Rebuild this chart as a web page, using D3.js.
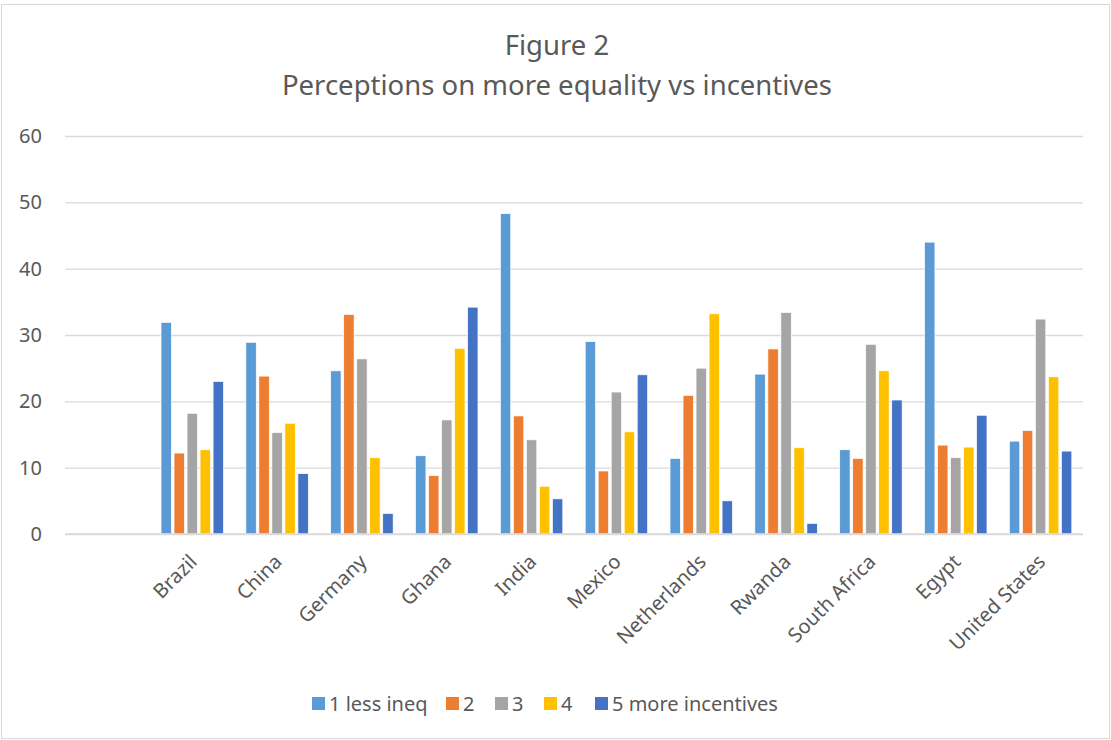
<!DOCTYPE html>
<html>
<head>
<meta charset="utf-8">
<script src="https://cdn.jsdelivr.net/npm/d3@7"></script>
<style>
  body { margin: 0; background: #fff; }
  svg { display: block; font-family: "Noto Sans", "Open Sans", sans-serif; }
</style>
</head>
<body>
<svg id="chart"></svg>
<script>
// categories (Excel left an empty slot before Brazil)
const countries = ["", "Brazil", "China", "Germany", "Ghana", "India", "Mexico",
                   "Netherlands", "Rwanda", "South Africa", "Egypt", "United States"];
const seriesNames = ["1 less ineq", "2", "3", "4", "5 more incentives"];
const seriesColors = ["#5B9BD5", "#ED7D31", "#A5A5A5", "#FFC000", "#4472C4"];

// values per series, same order as countries
const lessIneq   = [null, 31.9, 28.9, 24.6, 11.8, 48.3, 29.0, 11.4, 24.1, 12.7, 44.0, 14.0];
const answer2    = [null, 12.2, 23.8, 33.1,  8.8, 17.8,  9.5, 20.9, 27.9, 11.4, 13.4, 15.6];
const answer3    = [null, 18.2, 15.3, 26.4, 17.2, 14.2, 21.4, 25.0, 33.4, 28.6, 11.5, 32.4];
const answer4    = [null, 12.7, 16.7, 11.5, 28.0,  7.2, 15.4, 33.2, 13.0, 24.6, 13.1, 23.7];
const moreIncent = [null, 23.0,  9.1,  3.1, 34.2,  5.3, 24.0,  5.0,  1.6, 20.2, 17.9, 12.5];

const yTicks = [0, 10, 20, 30, 40, 50, 60];

const seriesValues = [lessIneq, answer2, answer3, answer4, moreIncent];

let width = 1111;
let height = 740;
let margin = { left: 65, right: 28, top: 136, bottom: 206 };

let svg = d3.select("#chart")
    .attr("width", width)
    .attr("height", height);

// chart border
svg.append("rect")
    .attr("x", 1.5).attr("y", 4.5)
    .attr("width", width - 3).attr("height", height - 6)
    .attr("fill", "#fff")
    .attr("stroke", "#d9d9d9");

// title
svg.append("text")
    .attr("x", 557).attr("y", 55)
    .attr("text-anchor", "middle")
    .attr("fill", "#595959")
    .style("font-size", "27.5px")
    .text("Figure 2");
svg.append("text")
    .attr("x", 557).attr("y", 95)
    .attr("text-anchor", "middle")
    .attr("fill", "#595959")
    .style("font-size", "27.5px")
    .text("Perceptions on more equality vs incentives");

let xScale = d3.scaleBand()
    .domain(countries)
    .range([margin.left, width - margin.right]);

let yScale = d3.scaleLinear()
    .domain([0, 60])
    .range([height - margin.bottom, margin.top]);

let innerX = d3.scaleBand()
    .domain(seriesNames)
    .range([0, xScale.bandwidth()])
    .paddingOuter(0.86)
    .paddingInner(0.2);

// gridlines
let yAxis = d3.axisLeft(yScale)
    .tickValues(yTicks)
    .tickSize(-(width - margin.left - margin.right))
    .tickPadding(23);

let gy = svg.append("g")
    .attr("transform", `translate(${margin.left},0)`)
    .call(yAxis);
gy.select(".domain").remove();
gy.selectAll(".tick line").attr("stroke", "#d9d9d9").attr("stroke-width", 1.3);
gy.selectAll(".tick text")
    .attr("fill", "#595959")
    .style("font-size", "20px")
    .style("font-family", "'Noto Sans', sans-serif");

// bars
let rows = countries.map((c, i) => ({ country: c, vals: seriesValues.map((s, k) => ({ name: seriesNames[k], k: k, v: s[i] })) }));

let groups = svg.append("g").selectAll("g")
    .data(rows.filter(r => r.country !== ""))
    .enter()
    .append("g")
    .attr("transform", d => `translate(${xScale(d.country)},0)`);

groups.selectAll("rect")
    .data(d => d.vals)
    .enter()
    .append("rect")
    .attr("x", d => innerX(d.name))
    .attr("width", innerX.bandwidth())
    .attr("y", d => yScale(d.v))
    .attr("height", d => yScale(0) - yScale(d.v))
    .attr("fill", d => seriesColors[d.k])
    .attr("stroke", "#fff")
    .attr("stroke-width", 0.7);

// baseline
svg.append("line")
    .attr("x1", margin.left).attr("x2", width - margin.right)
    .attr("y1", yScale(0)).attr("y2", yScale(0))
    .attr("stroke", "#d9d9d9").attr("stroke-width", 1.3);

// x labels
let xAxis = d3.axisBottom(xScale).tickSize(0).tickPadding(0);
let gx = svg.append("g")
    .attr("transform", `translate(0,${yScale(0)})`)
    .call(xAxis);
gx.select(".domain").remove();
gx.selectAll(".tick text")
    .attr("fill", "#595959")
    .style("font-size", "20px")
    .style("font-family", "'Noto Sans', sans-serif")
    .attr("text-anchor", "end")
    .attr("dy", 0)
    .attr("transform", "translate(6,29) rotate(-45)");

// legend
let legendX = [312, 446, 495, 544, 595];
let legend = svg.append("g");
seriesNames.forEach((n, k) => {
    legend.append("rect")
        .attr("x", legendX[k]).attr("y", 697)
        .attr("width", 13).attr("height", 13)
        .attr("fill", seriesColors[k]);
    legend.append("text")
        .attr("x", legendX[k] + 17).attr("y", 711)
        .attr("fill", "#595959")
        .style("font-size", "20px")
        .text(n);
});
</script>
</body>
</html>
